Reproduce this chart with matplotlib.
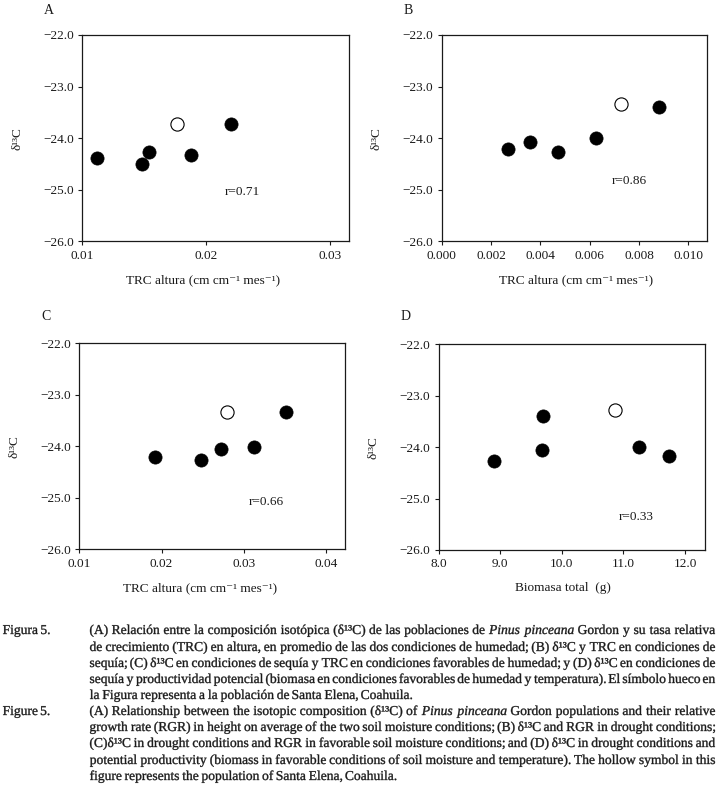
import matplotlib
matplotlib.use("Agg")
import matplotlib.pyplot as plt
from matplotlib.ticker import FuncFormatter
from matplotlib.textpath import TextPath
from matplotlib.patches import PathPatch
from matplotlib.font_manager import FontProperties
from matplotlib.transforms import Affine2D

plt.rcParams['font.family'] = ['Liberation Serif', 'DejaVu Serif']

# data (filled = other populations, open = Santa Elena)
a_x = [0.0112, 0.0148, 0.0154, 0.0188, 0.0220]
a_y = [-24.38, -24.50, -24.27, -24.33, -23.73]
a_open_x = [0.0176]
a_open_y = [-23.73]

b_x = [0.0027, 0.00357, 0.0047, 0.00627, 0.00881]
b_y = [-24.21, -24.07, -24.27, -24.00, -23.39]
b_open_x = [0.00727]
b_open_y = [-23.33]

c_x = [0.01925, 0.02481, 0.0272, 0.03125, 0.0351]
c_y = [-24.21, -24.27, -24.06, -24.02, -23.34]
c_open_x = [0.02793]
c_open_y = [-23.34]

d_x = [8.90, 9.68, 9.70, 11.25, 11.74]
d_y = [-24.27, -24.05, -23.39, -23.99, -24.18]
d_open_x = [10.87]
d_open_y = [-23.28]

r_labels = ['r=0.71', 'r=0.86', 'r=0.66', 'r=0.33']
letters = ['A', 'B', 'C', 'D']
y_ticks = [-26.0, -25.0, -24.0, -23.0, -22.0]
a_ticks = [0.01, 0.02, 0.03]
b_ticks = [0.000, 0.002, 0.004, 0.006, 0.008, 0.010]
c_ticks = [0.01, 0.02, 0.03, 0.04]
d_ticks = [8.0, 9.0, 10.0, 11.0, 12.0]
xlabel_trc = 'TRC altura (cm cm\u207b\u00b9 mes\u207b\u00b9)'
xlabel_bio = 'Biomasa total  (g)'

W, H = 720, 794
DPI = 100
fig = plt.figure(figsize=(W / DPI, H / DPI), dpi=DPI)
INK = '#1a1a1a'


def px_axes(l, t, r, b):
    return fig.add_axes([l / W, 1 - b / H, (r - l) / W, (b - t) / H])


def fx(x):
    return x / W


def fy(y):
    return 1 - y / H


def minus(fmt):
    return FuncFormatter(lambda v, p: (fmt % v).replace('-', '\u2212'))


panels = [
    # box (px), data, ticks, xlim, tick fmt, r pos, letter pos, xlabel pos
    ((82.3, 35, 349.3, 241.3), (a_x, a_y, a_open_x, a_open_y), a_ticks,
     (0.01, 0.03153), '%.2f', (0.02147, -25.04), (44, 10), (203, 280), xlabel_trc),
    ((441.7, 35, 706.7, 241.3), (b_x, b_y, b_open_x, b_open_y), b_ticks,
     (0.0, 0.01074), '%.3f', (0.0069, -24.84), (404, 10), (576, 280), xlabel_trc),
    ((79.3, 343.3, 345.3, 549.3), (c_x, c_y, c_open_x, c_open_y), c_ticks,
     (0.01, 0.04235), '%.2f', (0.0306, -25.09), (41, 317), (200, 588), xlabel_trc),
    ((438.7, 344.3, 705.3, 550), (d_x, d_y, d_open_x, d_open_y), d_ticks,
     (8.0, 12.33), '%.1f', (10.92, -25.35), (401, 317), (563, 588), xlabel_bio),
]

for i, (box, data, xt, xl, xfmt, rpos, lpos, xlpos, xlab) in enumerate(panels):
    ax = px_axes(*box)
    xs, ys, ox, oy = data
    ax.plot(xs, ys, 'o', color='black', markersize=9.5, markeredgewidth=0.5)
    ax.plot(ox, oy, 'o', markerfacecolor='white', markeredgecolor='black',
            markersize=9.5, markeredgewidth=0.8)
    ax.set_xlim(*xl)
    ax.set_ylim(-26, -22)
    ax.set_xticks(xt)
    ax.set_yticks(y_ticks)
    ax.xaxis.set_major_formatter(minus(xfmt))
    ax.yaxis.set_major_formatter(minus('%.1f'))
    ax.tick_params(direction='out', length=3, width=0.8, labelsize=9.5,
                   pad=3, colors=INK)
    for s in ax.spines.values():
        s.set_linewidth(0.9)
        s.set_color(INK)
    ax.text(rpos[0], rpos[1], r_labels[i], fontsize=9.5, va='center',
            ha='left', color=INK)
    fig.text(fx(lpos[0]), fy(lpos[1]), letters[i], fontsize=10,
             ha='left', va='center', color=INK)
    fig.text(fx(xlpos[0]), fy(xlpos[1]), xlab, fontsize=9.5,
             ha='center', va='center', color=INK)
    ylab_x = box[0] - 65
    fig.text(fx(ylab_x), fy((box[1] + box[3]) / 2), '\u03b4\u00b9\u00b3C',
             rotation=90, fontsize=9.5, ha='center', va='center', color=INK)

# caption, justified line by line; *word* = italic
cap_es = [
    '(A) Relación entre la composición isotópica (\u03b4\u00b9\u00b3C) de las poblaciones de *Pinus* *pinceana* Gordon y su tasa relativa',
    'de crecimiento (TRC) en altura, en promedio de las dos condiciones de humedad; (B) \u03b4\u00b9\u00b3C y TRC en condiciones de',
    'sequía; (C) \u03b4\u00b9\u00b3C en condiciones de sequía y TRC en condiciones favorables de humedad; y (D) \u03b4\u00b9\u00b3C en condiciones de',
    'sequía y productividad potencial (biomasa en condiciones favorables de humedad y temperatura). El símbolo hueco en',
    'la Figura representa a la población de Santa Elena, Coahuila.',
]
cap_en = [
    '(A) Relationship between the isotopic composition (\u03b4\u00b9\u00b3C) of *Pinus* *pinceana* Gordon populations and their relative',
    'growth rate (RGR) in height on average of the two soil moisture conditions; (B) \u03b4\u00b9\u00b3C and RGR in drought conditions;',
    '(C)\u03b4\u00b9\u00b3C in drought conditions and RGR in favorable soil moisture conditions; and (D) \u03b4\u00b9\u00b3C in drought conditions and',
    'potential productivity (biomass in favorable conditions of soil moisture and temperature). The hollow symbol in this',
    'figure represents the population of Santa Elena, Coahuila.',
]
baselines_es = [634, 651, 667, 683, 699]
baselines_en = [715, 731, 747, 764, 780]
CAP_FONT = 'Liberation Serif'
PX = DPI / 72.0


def split_style(w):
    if w.startswith('*') and w.endswith('*'):
        return w[1:-1], 'italic'
    return w, 'normal'


def word_path(w, size):
    txt, style = split_style(w)
    fp = FontProperties(family=CAP_FONT, style=style, size=size)
    return TextPath((0, 0), txt, prop=fp)


def word_width(w, size):
    ext = word_path(w, size).get_extents()
    return ext.width * PX


def space_width(size):
    return word_width('x x', size) - word_width('xx', size)


def draw_word(w, size, x, y):
    # x = left ink edge (px from left), y = baseline (px from top)
    tp = word_path(w, size)
    ext = tp.get_extents()
    tr = Affine2D().translate(-ext.x0, 0).scale(PX).translate(x, H - y)
    patch = PathPatch(tp, facecolor=INK, edgecolor=INK, lw=0.25,
                      transform=tr)
    fig.add_artist(patch)


x0, x1 = 90, 715
size = 10.5
while size > 7:
    sp = space_width(size)
    ok = True
    for line in cap_es[:-1] + cap_en[:-1]:
        ws = line.split(' ')
        tot = sum(word_width(w, size) for w in ws) + sp * 0.7 * (len(ws) - 1)
        if tot > x1 - x0:
            ok = False
            break
    if ok:
        break
    size -= 0.25


def put_paragraph(label, lines, baselines):
    sp = space_width(size)
    lx = 3
    for w in label.split(' '):
        draw_word(w, size, lx, baselines[0])
        lx += word_width(w, size) + sp
    for j, line in enumerate(lines):
        ws = line.split(' ')
        wds = [word_width(w, size) for w in ws]
        if j == len(lines) - 1 or len(ws) == 1:
            gap = sp
        else:
            gap = (x1 - x0 - sum(wds)) / (len(ws) - 1)
        x = x0
        for w, wd in zip(ws, wds):
            draw_word(w, size, x, baselines[j])
            x += wd + gap


put_paragraph('Figura 5.', cap_es, baselines_es)
put_paragraph('Figure 5.', cap_en, baselines_en)

fig.savefig('out.png', dpi=DPI, facecolor='white')
